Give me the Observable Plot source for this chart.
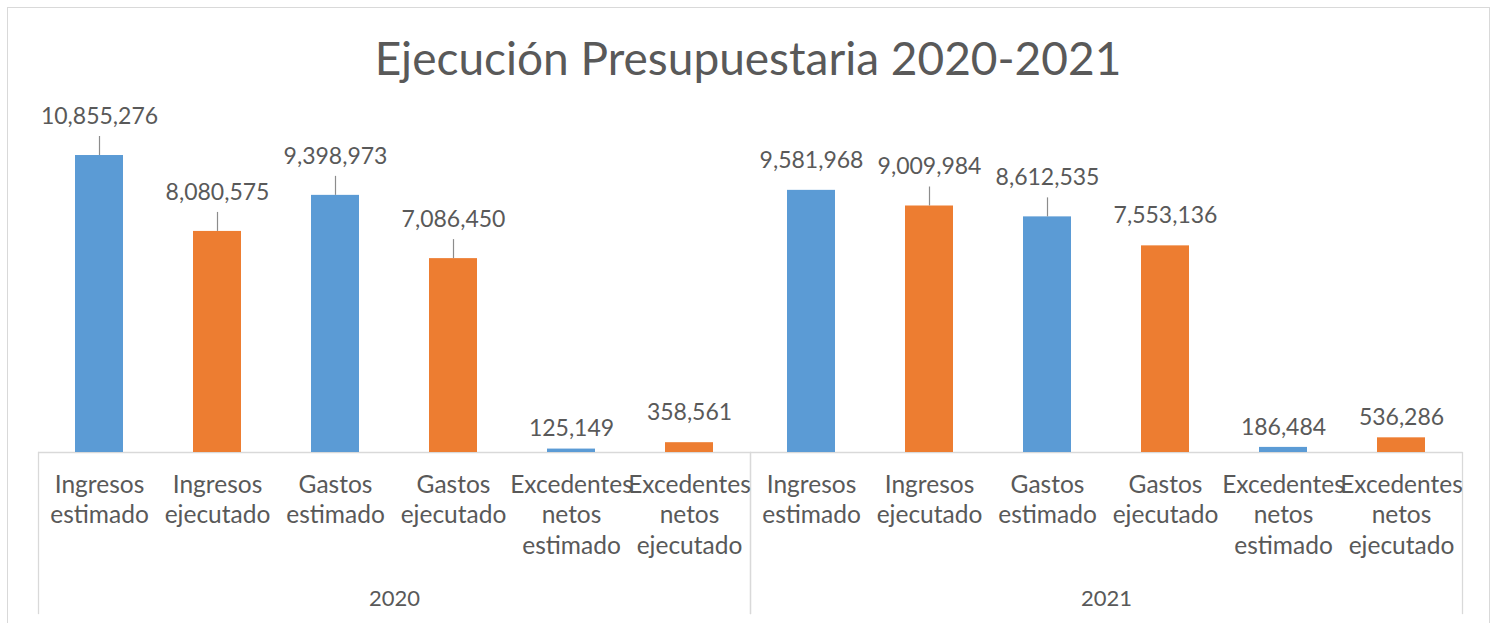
<!DOCTYPE html>
<html>
<head>
<meta charset="utf-8">
<script src="https://cdn.jsdelivr.net/npm/d3@7"></script>
<script src="https://cdn.jsdelivr.net/npm/@observablehq/plot@0.6"></script>
<style>
  html, body { margin: 0; padding: 0; background: #ffffff; }
  body { width: 1496px; height: 623px; overflow: hidden; position: relative; font-family: Lato, sans-serif; }
  #border { position: absolute; left: 7px; top: 7px; width: 1483px; height: 640px; border: 1px solid #d9d9d9; box-sizing: border-box; }
  #title { position: absolute; left: 0; top: 35px; width: 1496px; text-align: center; font-size: 46px; line-height: 46px; color: #595959; font-family: Lato, sans-serif; }
  #chart { position: absolute; left: 0; top: 100px; }
</style>
</head>
<body>
<div id="border"></div>
<div id="title">Ejecución Presupuestaria 2020-2021</div>
<div id="chart"></div>
<script>
// ---- data ----
const years = ["2020", "2021"];
const categories = [
  "Ingresos estimado",
  "Ingresos ejecutado",
  "Gastos estimado",
  "Gastos ejecutado",
  "Excedentes netos estimado",
  "Excedentes netos ejecutado"
];
const values2020 = [10855276, 8080575, 9398973, 7086450, 125149, 358561];
const values2021 = [9581968, 9009984, 8612535, 7553136, 186484, 536286];
// how each data label sits above its bar: with a leader line, just above, or close
const labelStyle2020 = ["leader", "leader", "leader", "leader", "close", "above"];
const labelStyle2021 = ["above", "leader", "leader", "above", "close", "close"];
const kinds = ["estimado", "ejecutado"];
const kindColors = ["#5B9BD5", "#ED7D31"];

const rows = [];
categories.forEach((c, i) => rows.push({year: "2020", category: c, value: values2020[i], label: labelStyle2020[i], kind: c.endsWith("estimado") ? "estimado" : "ejecutado"}));
categories.forEach((c, i) => rows.push({year: "2021", category: c, value: values2021[i], label: labelStyle2021[i], kind: c.endsWith("estimado") ? "estimado" : "ejecutado"}));

const fmt = d3.format(",");
const textColor = "#595959";
const lineColor = "#d9d9d9";
const H = 523, MB = 171, MT = 23.7;

const chart = Plot.plot({
  width: 1496,
  height: H,
  marginLeft: 37,
  marginRight: 34,
  marginTop: MT,
  marginBottom: MB,
  style: {fontFamily: "Lato, sans-serif", color: textColor, background: "transparent", overflow: "visible"},
  fx: {domain: years, padding: 0, axis: null},
  x: {domain: categories, paddingInner: 0.59, paddingOuter: 0.295, axis: null},
  y: {domain: [0, 12000000], axis: null},
  color: {domain: kinds, range: kindColors},
  marks: [
    // baseline of category axis
    Plot.ruleY([0], {stroke: lineColor, strokeWidth: 1.3}),
    // vertical separators of the grouped category axis
    Plot.frame({anchor: "left", stroke: lineColor, strokeWidth: 1.3, insetTop: H - MT - MB, insetBottom: -161}),
    Plot.frame({anchor: "right", stroke: lineColor, strokeWidth: 1.3, insetTop: H - MT - MB, insetBottom: -161}),
    Plot.barY(rows, {fx: "year", x: "category", y: "value", fill: "kind"}),
    // leader lines
    Plot.ruleX(rows, {filter: d => d.label === "leader", fx: "year", x: "category", y1: "value", y2: "value", insetTop: -19, stroke: "#8c8c8c", strokeWidth: 1.2}),
    // data labels
    Plot.text(rows, {filter: d => d.label === "leader", fx: "year", x: "category", y: "value", text: d => fmt(d.value), dy: -39, fontSize: 23, fill: textColor}),
    Plot.text(rows, {filter: d => d.label === "above", fx: "year", x: "category", y: "value", text: d => fmt(d.value), dy: -30, fontSize: 23, fill: textColor}),
    Plot.text(rows, {filter: d => d.label === "close", fx: "year", x: "category", y: "value", text: d => fmt(d.value), dy: -20, fontSize: 23, fill: textColor}),
    // category labels
    Plot.text(categories, {x: d => d, text: d => d.replace(/ /g, "\n"), frameAnchor: "bottom", lineAnchor: "top", dy: 19, lineHeight: 1.24, fontSize: 24.5, fill: textColor}),
    // group (year) labels
    Plot.text(years, {fx: d => d, text: d => d, frameAnchor: "bottom", dy: 153, fontSize: 22, fill: textColor})
  ]
});
document.getElementById("chart").appendChild(chart);
</script>
</body>
</html>
